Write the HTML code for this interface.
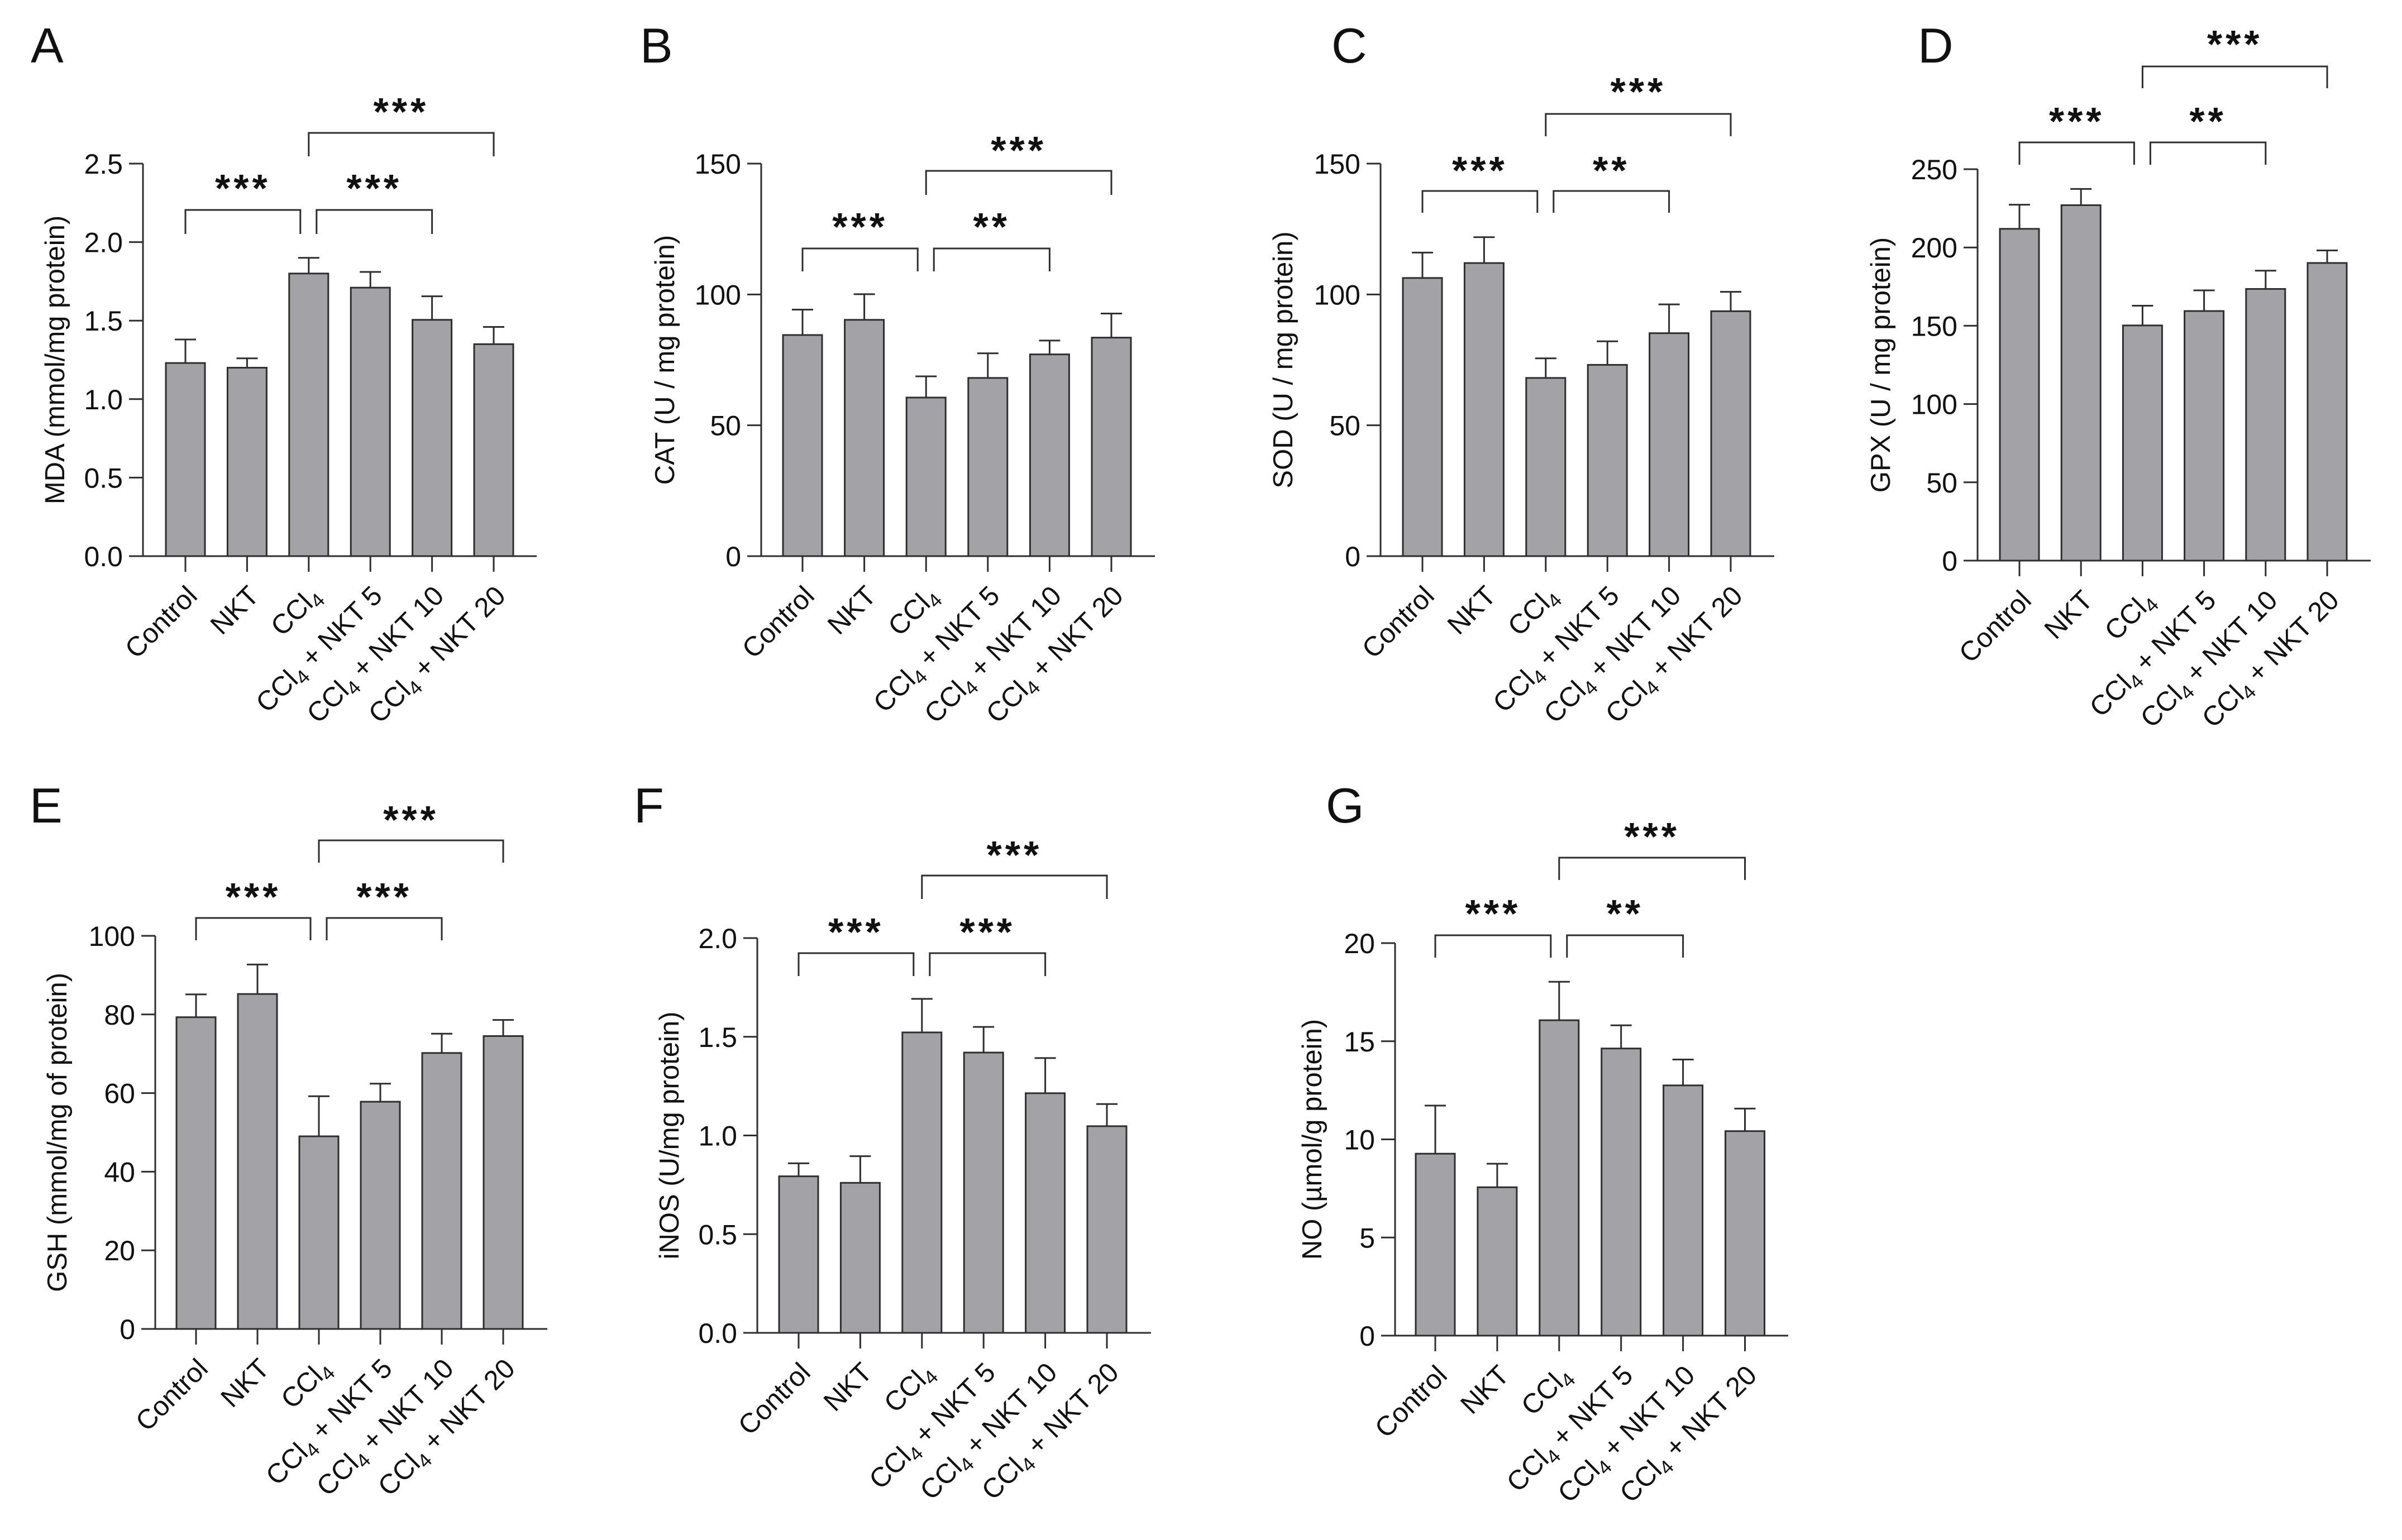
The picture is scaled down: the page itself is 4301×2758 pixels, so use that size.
<!DOCTYPE html>
<html><head><meta charset="utf-8">
<style>
html,body{margin:0;padding:0;background:#fff;}
svg{display:block;font-family:"Liberation Sans",Arial,sans-serif;}
</style></head>
<body>
<svg id="fig" width="4301" height="2758" viewBox="0 0 4301 2758" xmlns="http://www.w3.org/2000/svg"></svg>
<script>
// ---- data ----
const categories = ["Control","NKT","CCl4","CCl4 + NKT 5","CCl4 + NKT 10","CCl4 + NKT 20"];

const mdaValues = [1.23, 1.20, 1.80, 1.71, 1.505, 1.35];
const mdaErrors = [1.38, 1.26, 1.90, 1.81, 1.655, 1.46];
const mdaTicks = ["0.0","0.5","1.0","1.5","2.0","2.5"];
const mdaTickValues = [0,0.5,1.0,1.5,2.0,2.5];

const catValues = [84.5, 90.3, 60.6, 68.1, 77.1, 83.5];
const catErrors = [94.2, 100.1, 68.7, 77.5, 82.4, 92.7];
const catTicks = ["0","50","100","150"];
const catTickValues = [0,50,100,150];

const sodValues = [106.3, 112.0, 68.1, 73.1, 85.2, 93.6];
const sodErrors = [116.0, 121.9, 75.6, 82.1, 96.2, 101.0];
const sodTicks = ["0","50","100","150"];
const sodTickValues = [0,50,100,150];

const gpxValues = [211.9, 227.0, 150.2, 159.4, 173.5, 190.1];
const gpxErrors = [227.3, 237.4, 162.8, 172.6, 185.2, 198.1];
const gpxTicks = ["0","50","100","150","200","250"];
const gpxTickValues = [0,50,100,150,200,250];

const gshValues = [79.3, 85.2, 49.0, 57.8, 70.2, 74.5];
const gshErrors = [85.1, 92.7, 59.2, 62.4, 75.1, 78.6];
const gshTicks = ["0","20","40","60","80","100"];
const gshTickValues = [0,20,40,60,80,100];

const inosValues = [0.793, 0.760, 1.522, 1.42, 1.214, 1.047];
const inosErrors = [0.859, 0.895, 1.692, 1.550, 1.392, 1.159];
const inosTicks = ["0.0","0.5","1.0","1.5","2.0"];
const inosTickValues = [0,0.5,1.0,1.5,2.0];

const noValues = [9.27, 7.56, 16.07, 14.63, 12.75, 10.42];
const noErrors = [11.72, 8.76, 18.03, 15.81, 14.07, 11.57];
const noTicks = ["0","5","10","15","20"];
const noTickValues = [0,5,10,15,20];

const sigA = [[0,2,"***"],[2,4,"***"],[2,5,"***"]];
const sigB = [[0,2,"***"],[2,4,"**"],[2,5,"***"]];
const sigC = [[0,2,"***"],[2,4,"**"],[2,5,"***"]];
const sigD = [[0,2,"***"],[2,4,"**"],[2,5,"***"]];
const sigE = [[0,2,"***"],[2,4,"***"],[2,5,"***"]];
const sigF = [[0,2,"***"],[2,4,"***"],[2,5,"***"]];
const sigG = [[0,2,"***"],[2,4,"**"],[2,5,"***"]];

// ---- layout ----
const panels = [
 {id:"a",letter:"A",lx:55,ly:112,ylabel:"MDA (mmol/mg protein)",ylx:98,values:mdaValues,errors:mdaErrors,ticks:mdaTicks,tickValues:mdaTickValues,max:2.5,
  axX:256,axEnd:961,y0:996,yTop:293,x0:332,step:110.4,sig:sigA,low:[376,419,331],high:[238,280,194]},
 {id:"b",letter:"B",lx:1146,ly:112,ylabel:"CAT (U / mg protein)",ylx:1190,values:catValues,errors:catErrors,ticks:catTicks,tickValues:catTickValues,max:150,
  axX:1363,axEnd:2068,y0:996,yTop:293,x0:1437,step:110.6,sig:sigB,low:[445,486,400],high:[306,349,263]},
 {id:"c",letter:"C",lx:2384,ly:112,ylabel:"SOD (U / mg protein)",ylx:2297,values:sodValues,errors:sodErrors,ticks:sodTicks,tickValues:sodTickValues,max:150,
  axX:2472,axEnd:3177,y0:996,yTop:293,x0:2547,step:110.4,sig:sigC,low:[342,381,299],high:[204,244,158]},
 {id:"d",letter:"D",lx:3434,ly:112,ylabel:"GPX (U / mg protein)",ylx:3367,values:gpxValues,errors:gpxErrors,ticks:gpxTicks,tickValues:gpxTickValues,max:250,
  axX:3541,axEnd:4245,y0:1004,yTop:303,x0:3616,step:110.2,sig:sigD,low:[255,295,211],high:[119,158,73]},
 {id:"e",letter:"E",lx:53,ly:1473,ylabel:"GSH (mmol/mg of protein)",ylx:102,values:gshValues,errors:gshErrors,ticks:gshTicks,tickValues:gshTickValues,max:100,
  axX:278,axEnd:980,y0:2380,yTop:1676,x0:351,step:110,sig:sigE,low:[1644,1684,1600],high:[1505,1545,1462]},
 {id:"f",letter:"F",lx:1135,ly:1473,ylabel:"iNOS (U/mg protein)",ylx:1198,values:inosValues,errors:inosErrors,ticks:inosTicks,tickValues:inosTickValues,max:2.0,
  axX:1356,axEnd:2061,y0:2387,yTop:1680,x0:1430,step:110.4,sig:sigF,low:[1707,1748,1663],high:[1568,1610,1525]},
 {id:"g",letter:"G",lx:2374,ly:1473,ylabel:"NO (\u00b5mol/g protein)",ylx:2349,values:noValues,errors:noErrors,ticks:noTicks,tickValues:noTickValues,max:20,
  axX:2498,axEnd:3202,y0:2392,yTop:1689,x0:2570,step:110.9,sig:sigG,low:[1675,1715,1630],high:[1536,1576,1492]}
];

const NS = "http://www.w3.org/2000/svg";
const svg = document.getElementById("fig");
function mk(tag, attrs, parent){
  const e = document.createElementNS(NS, tag);
  for (const k in attrs) e.setAttribute(k, attrs[k]);
  parent.appendChild(e);
  return e;
}
const INK = "#2e2e2e", FILL = "#a3a3a7", BW = 70, CAP = 19;

function addCatLabel(g, text, x, y){
  const t = mk("text", {x:0, y:0, "text-anchor":"end", "font-size":49, fill:"#111",
    transform:`translate(${x},${y}) rotate(-45)`}, g);
  
  
  const i = text.indexOf("CCl4");
  if (i >= 0) {
    const a = document.createElementNS(NS, "tspan"); a.textContent = "CCl"; t.appendChild(a);
    const s = document.createElementNS(NS, "tspan"); s.textContent = "4";
    s.setAttribute("font-size", 35); s.setAttribute("dy", 10); t.appendChild(s);
    const rest = text.slice(i + 4);
    if (rest) { const r = document.createElementNS(NS, "tspan"); r.textContent = rest; r.setAttribute("dy", -10); t.appendChild(r); }
  } else t.textContent = text;
}

panels.forEach(p => {
  const g = mk("g", {}, svg);
  
  
  const yS = v => p.y0 - (v / p.max) * (p.y0 - p.yTop);
  const xS = i => p.x0 + i * p.step;

  const L = mk("text", {x:p.lx, y:p.ly, "font-size":88, fill:"#111"}, g);
  L.textContent = p.letter;
  
  

  p.values.forEach((v, i) => {
    const cx = xS(i);
    const eb = mk("line", {x1:cx, x2:cx, y1:yS(v), y2:yS(p.errors[i]), stroke:INK, "stroke-width":3}, g);
    
    
    const ec = mk("line", {x1:cx-CAP, x2:cx+CAP, y1:yS(p.errors[i]), y2:yS(p.errors[i]), stroke:INK, "stroke-width":3}, g);
    
    
    const r = mk("rect", {x:cx-BW/2, y:yS(v), width:BW, height:p.y0 - yS(v), fill:FILL, stroke:INK, "stroke-width":3}, g);
    
    
    const tk = mk("line", {x1:cx, x2:cx, y1:p.y0, y2:p.y0+28, stroke:INK, "stroke-width":3}, g);
    
    
    addCatLabel(g, categories[i], cx + 24, p.y0 + 74);
  });

  const ya = mk("line", {x1:p.axX, x2:p.axX, y1:p.yTop, y2:p.y0+1.5, stroke:INK, "stroke-width":3}, g);
  
  
  const xa = mk("line", {x1:p.axX-25, x2:p.axEnd, y1:p.y0, y2:p.y0, stroke:INK, "stroke-width":3}, g);
  
  
  p.tickValues.forEach((tv, j) => {
    const y = yS(tv);
    const t = mk("line", {x1:p.axX-25, x2:p.axX, y1:y, y2:y, stroke:INK, "stroke-width":3}, g);
    
    
    const tl = mk("text", {x:p.axX-36, y:y+18, "text-anchor":"end", "font-size":50, fill:"#111"}, g);
    tl.textContent = p.ticks[j];
    
    
  });
  const my = (p.y0 + p.yTop) / 2;
  const yl = mk("text", {x:0, y:0, "text-anchor":"middle", "font-size":49, fill:"#111",
    transform:`translate(${p.ylx + 17},${my}) rotate(-90)`}, g);
  yl.textContent = p.ylabel;
  
  

  p.sig.forEach((s, k) => {
    const lv = k === 2 ? p.high : p.low;
    let xa1 = xS(s[0]), xb1 = xS(s[1]);
    if (k === 0) xb1 -= 15;
    if (k === 1) xa1 += 14;
    const path = mk("path", {d:`M${xa1},${lv[1]} L${xa1},${lv[0]} L${xb1},${lv[0]} L${xb1},${lv[1]}`,
      fill:"none", stroke:INK, "stroke-width":3}, g);
    
    
    const st = mk("text", {x:(xa1+xb1)/2, y:lv[2]+30, "text-anchor":"middle", "font-size":70,
      "font-weight":"bold", "letter-spacing":6, fill:"#111"}, g);
    st.textContent = s[2];
    
    
  });
});
</script>
</body></html>
